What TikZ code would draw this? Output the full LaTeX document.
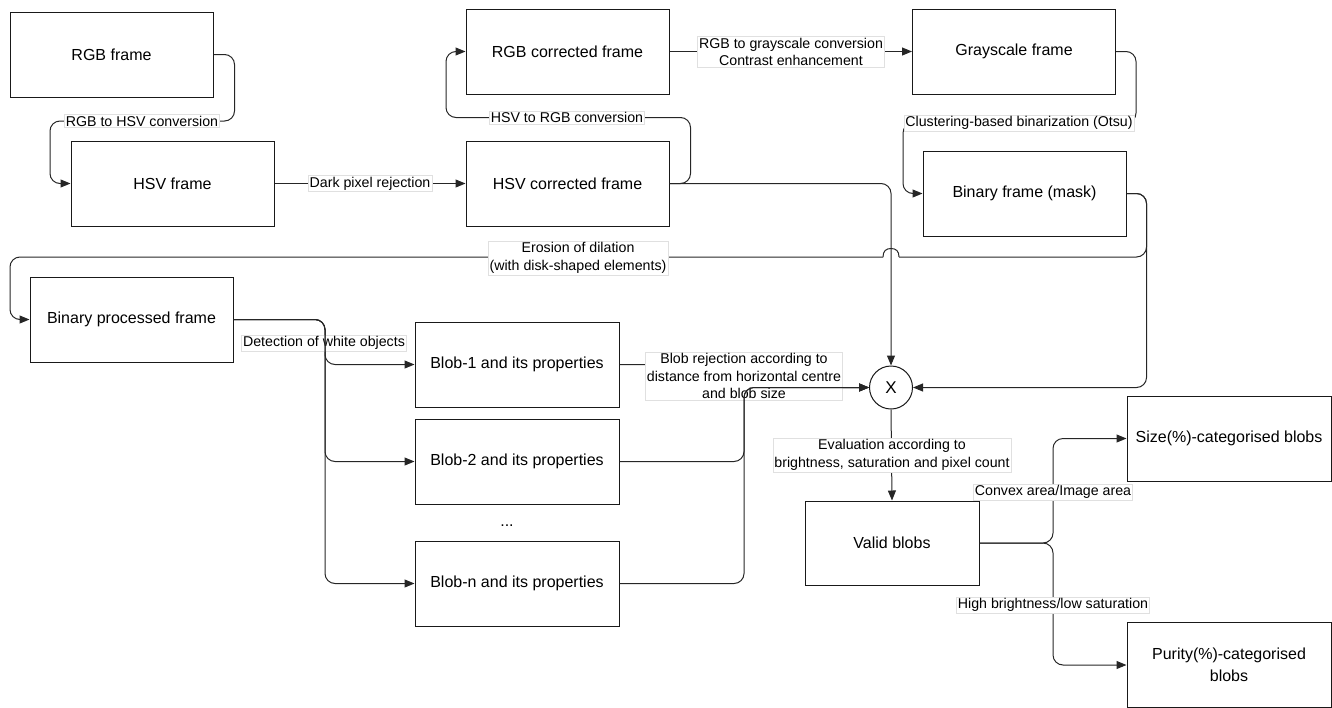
\documentclass[tikz,border=0pt]{standalone}
\usepackage{fontspec}
\setmainfont{Liberation Sans}
\usetikzlibrary{arrows.meta}
\begin{document}
\begin{tikzpicture}[x=1pt,y=-1pt,
  box/.style={draw=black!90, line width=1pt, minimum width=203pt, minimum height=85pt,
    inner sep=2pt, align=center, font=\fontsize{16}{22}\selectfont},
  lbl/.style={fill=white, draw=black!12, line width=0.5pt, inner sep=1.5pt, align=center,
    font=\fontsize{14.2}{17.5}\selectfont},
  conn/.style={draw=black!85, line width=1pt, rounded corners=10pt},
  arr/.style={conn, -{Triangle[length=10pt,width=8pt]}},
  ]
\useasboundingbox (0,0) rectangle (1332,707);

% boxes
\node[box] (rgb)  at (111.5,54.5)  {RGB frame};
\node[box] (hsv)  at (172.5,183.5) {HSV frame};
\node[box] (rgbc) at (567.5,51.5)  {RGB corrected frame};
\node[box] (hsvc) at (567.5,183.5) {HSV corrected frame};
\node[box] (gray) at (1014,51.5)   {Grayscale frame};
\node[box] (mask) at (1024.5,193.5) {Binary frame (mask)};
\node[box] (bp)   at (131.5,319.5) {Binary processed frame};
\node[box, minimum width=204pt] (b1) at (517,364.5) {Blob-1 and its properties};
\node[box, minimum width=204pt] (b2) at (517,461.5) {Blob-2 and its properties};
\node[box, minimum width=204pt] (bn) at (517,583.5) {Blob-n and its properties};
\node[font=\fontsize{16}{20}\selectfont] (dots) at (507,526) {...};
\node[draw=black!90, line width=1pt, circle, minimum size=43pt, inner sep=0pt,
  font=\fontsize{17}{20}\selectfont] (cx) at (891,387.5) {X};
\node[box, minimum width=174pt, minimum height=84pt] (valid) at (892,543) {Valid blobs};
\node[box, minimum width=204pt] (size) at (1229,438.5) {Size(\%)-categorised blobs};
\node[box, minimum width=204pt] (pur)  at (1229,665) {Purity(\%)-categorised\\blobs};

% connectors
\draw[arr] (rgb.east) -- ++(21,0) |- (50,121) |- (hsv.west);
\node[lbl] (l1) at (142,121) {RGB to HSV conversion};

\draw[arr] (hsv.east) -- (hsvc.west);
\node[lbl] (l2) at (370,183.5) {Dark pixel rejection};

\draw[arr] (hsvc.east) -- ++(21,0) |- (446,117.5) |- (rgbc.west);
\node[lbl] (l3) at (567,117.5) {HSV to RGB conversion};

\draw[arr] (rgbc.east) -- (gray.west);
\node[lbl] (l4) at (791,52) {RGB to grayscale conversion\\Contrast enhancement};

\draw[arr] (gray.east) -- ++(20,0) |- (903,123) |- (mask.west);
\node[lbl] (l5) at (1019,123) {Clustering-based binarization (Otsu)};

\draw[arr] (hsvc.east) -| (cx.north);

\draw[arr] (mask.east) -- ++(20,0) |- (cx.east);

% erosion connector with a line hop over the vertical line at x=891
\coordinate (hopR) at (899,257);
\coordinate (hopL) at (883,257);
\draw[conn] (mask.east) -- ++(20,0) |- (hopR);
\draw[conn, sharp corners] (hopR) .. controls (899,251) and (896,248.5) .. (891,248.5)
  .. controls (886,248.5) and (883,251) .. (hopL);
\draw[arr] (hopL) -- (10,257) |- (bp.west);
\node[lbl] (l6) at (578,258) {Erosion of dilation\\(with disk-shaped elements)};

\draw[arr] (bp.east) -- (325,319.5) |- (b1.west);
\node[lbl] (l7) at (324,343) {Detection of white objects};
\draw[arr] (bp.east) -- (325,319.5) |- (b2.west);
\draw[arr] (bp.east) -- (325,319.5) |- (bn.west);

\draw[arr] (b1.east) -| (744,387.5) -- (cx.west);
\node[lbl] (l8) at (744,376) {Blob rejection according to\\distance from horizontal centre\\and blob size};
\draw[arr] (b2.east) -| (744,387.5) -- (cx.west);
\draw[arr] (bn.east) -| (744,387.5) -- (cx.west);

\draw[arr] (cx.south) -- (valid.north);
\node[lbl] (l9) at (892,455) {Evaluation according to\\brightness, saturation and pixel count};

\draw[arr] (valid.east) -- (1053,543) |- (size.west);
\node[lbl] (l10) at (1053,492) {Convex area/Image area};
\draw[arr] (valid.east) -- (1053,543) |- (pur.west);
\node[lbl] (l11) at (1053,605) {High brightness/low saturation};
\end{tikzpicture}
\end{document}
